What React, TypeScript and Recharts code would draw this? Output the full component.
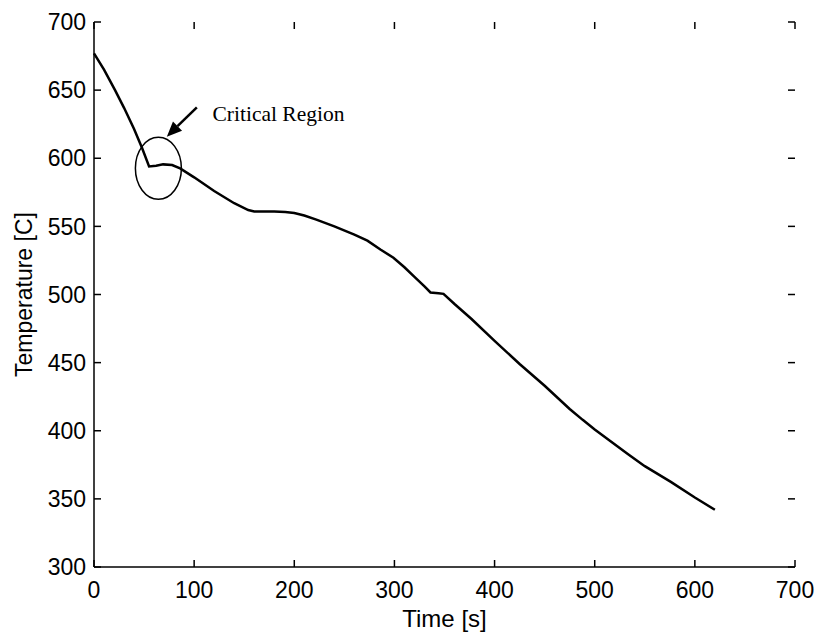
import React from 'react';
import {
  LineChart, Line, XAxis, YAxis, ReferenceDot, ReferenceLine, Label
} from 'recharts';

// time [s] and temperature [C]
const times = [0, 10, 21, 30, 40, 48, 55, 62, 69, 78, 86, 100, 120, 140, 154, 160, 180, 191, 200, 210, 222, 240, 260, 273, 286, 299, 310, 320, 330, 336, 344, 349, 360, 377, 400, 425, 450, 475, 488, 500, 533, 550, 576, 600, 620];
const temps = [677, 665, 650, 637, 621.5, 607.5, 594, 594.5, 595.5, 595, 592.5, 586, 576, 567, 562, 561, 561, 560.6, 559.8, 558, 555, 550, 544, 539.5, 533, 527, 520, 513, 506, 501.5, 501, 500.5, 493, 482, 466, 449, 433, 416, 408, 401, 383, 374, 362.5, 351, 342];

const xTicks = [0, 100, 200, 300, 400, 500, 600, 700];
const yTicks = [300, 350, 400, 450, 500, 550, 600, 650, 700];

// annotation
const regionCenter = { t: 64.3, T: 592.6 };
const arrowTail = { t: 102.7, T: 637.4 };
const arrowTip = { t: 72.7, T: 615.8 };
const noteAnchor = { t: 118.3, T: 627.6 };
const noteText = 'Critical Region';

const data = times.map((t, i) => ({ t, T: temps[i] }));

const sans = '"Liberation Sans", Arial, sans-serif';
const serif = '"Liberation Serif", "Times New Roman", serif';
const TICK = 7;

const BottomTick = (p: any) => (
  <text x={p.x} y={p.y} dy="0.71em" textAnchor="middle" fontSize={23} fontFamily={sans} fill="#000">{p.payload.value}</text>
);
const LeftTick = (p: any) => (
  <text x={p.x} y={p.y} dy="0.355em" textAnchor="end" fontSize={23} fontFamily={sans} fill="#000">{p.payload.value}</text>
);

// inward tick marks on both ends of a full-span reference line (matlab box style)
const VTick = (p: any) => {
  const top = Math.min(p.y1, p.y2), bot = Math.max(p.y1, p.y2);
  return (
    <g>
      <line x1={p.x1} y1={bot} x2={p.x1} y2={bot - TICK} stroke="#000" strokeWidth={1.5} />
      <line x1={p.x1} y1={top} x2={p.x1} y2={top + TICK} stroke="#000" strokeWidth={1.5} />
    </g>
  );
};
const HTick = (p: any) => {
  const l = Math.min(p.x1, p.x2), r = Math.max(p.x1, p.x2);
  return (
    <g>
      <line x1={l} y1={p.y1} x2={l + TICK} y2={p.y1} stroke="#000" strokeWidth={1.5} />
      <line x1={r} y1={p.y1} x2={r - TICK} y2={p.y1} stroke="#000" strokeWidth={1.5} />
    </g>
  );
};

const Arrow = (p: any) => {
  const { x1, y1, x2, y2 } = p;
  const dx = x2 - x1, dy = y2 - y1;
  const len = Math.sqrt(dx * dx + dy * dy);
  const ux = dx / len, uy = dy / len;
  const head = 15, half = 6.5;
  const bx = x2 - ux * head, by = y2 - uy * head;
  return (
    <g>
      <line x1={x1} y1={y1} x2={bx} y2={by} stroke="#000" strokeWidth={2.5} />
      <polygon
        points={`${x2},${y2} ${bx - uy * half},${by + ux * half} ${bx + uy * half},${by - ux * half}`}
        fill="#000"
      />
    </g>
  );
};

const App: React.FC = () => {
  return (
    <div style={{ position: 'absolute', left: 0, top: 0, background: '#fff' }}>
      <LineChart width={821} height={638} data={data} margin={{ top: 22, right: 26, left: 0, bottom: 0 }}>
        <XAxis
          xAxisId="b" dataKey="t" type="number" domain={[0, 700]} ticks={xTicks} interval={0}
          height={71} stroke="#000" strokeWidth={1.5} tickLine={false} tickSize={0} tickMargin={15}
          tick={BottomTick}
        >
          <Label value="Time [s]" position="insideBottom" offset={11} style={{ fontSize: 24, fill: '#000', fontFamily: sans }} />
        </XAxis>
        <XAxis
          xAxisId="top" dataKey="t" type="number" domain={[0, 700]}
          orientation="top" height={0} stroke="#000" strokeWidth={1.5} tickLine={false} tick={false}
        />
        <YAxis
          yAxisId="l" type="number" domain={[300, 700]} ticks={yTicks} interval={0}
          width={94} stroke="#000" strokeWidth={1.5} tickLine={false} tickSize={0} tickMargin={8}
          tick={LeftTick}
        >
          <Label
            value="Temperature [C]" angle={-90} position="insideLeft" offset={24}
            style={{ fontSize: 23, fill: '#000', fontFamily: sans, textAnchor: 'middle' }}
          />
        </YAxis>
        <YAxis
          yAxisId="r" type="number" domain={[300, 700]}
          orientation="right" width={0} stroke="#000" strokeWidth={1.5} tickLine={false} tick={false}
        />
        {xTicks.map(v => (
          <ReferenceLine key={'x' + v} xAxisId="b" yAxisId="l" x={v} shape={VTick} />
        ))}
        {yTicks.map(v => (
          <ReferenceLine key={'y' + v} xAxisId="b" yAxisId="l" y={v} shape={HTick} />
        ))}
        <Line
          xAxisId="b" yAxisId="l" dataKey="T" type="linear" stroke="#000" strokeWidth={2.5}
          dot={false} isAnimationActive={false}
        />
        <ReferenceDot
          xAxisId="b" yAxisId="l" x={regionCenter.t} y={regionCenter.T}
          shape={(p: any) => <ellipse cx={p.cx} cy={p.cy} rx={23} ry={31} fill="none" stroke="#000" strokeWidth={1.5} />}
        />
        <ReferenceLine
          xAxisId="b" yAxisId="l"
          segment={[{ x: arrowTail.t, y: arrowTail.T }, { x: arrowTip.t, y: arrowTip.T }]}
          shape={Arrow}
        />
        <ReferenceDot
          xAxisId="b" yAxisId="l" x={noteAnchor.t} y={noteAnchor.T}
          shape={(p: any) => (
            <text x={p.cx} y={p.cy} fontSize={21.5} fontFamily={serif} fill="#000">{noteText}</text>
          )}
        />
      </LineChart>
    </div>
  );
};

export default App;
